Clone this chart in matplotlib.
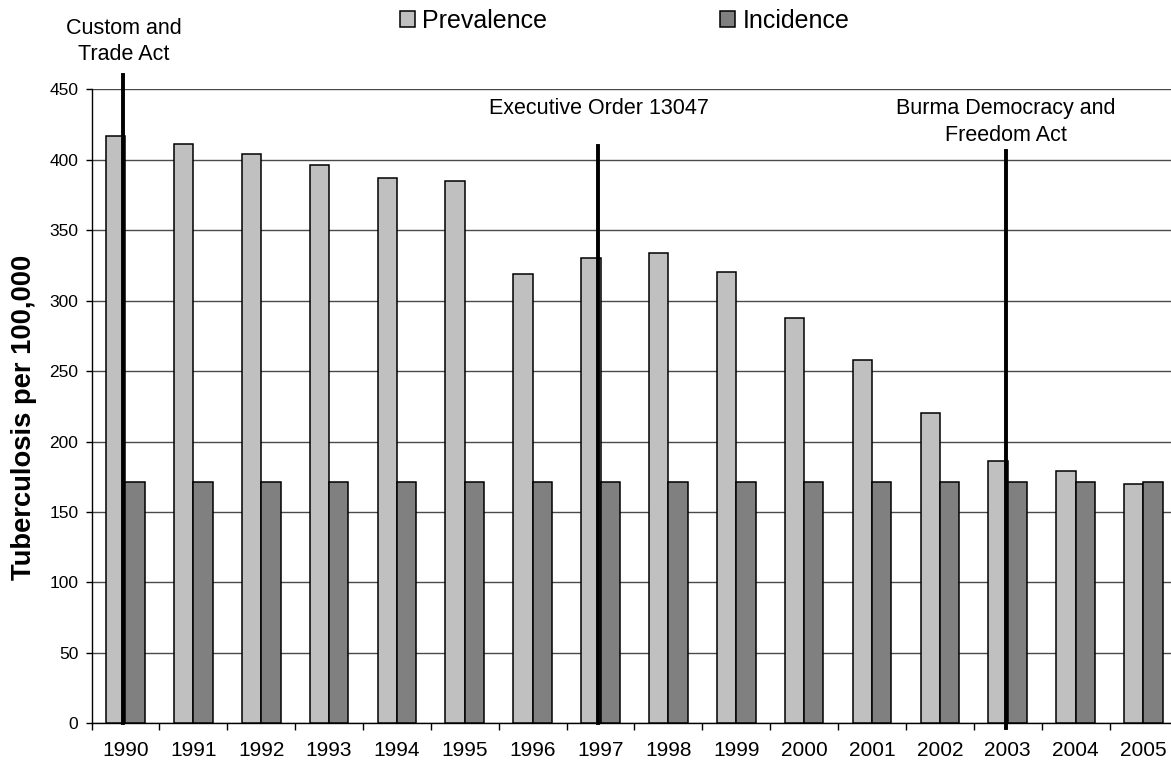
import matplotlib
matplotlib.use("Agg")
import matplotlib.pyplot as plt
import numpy as np
from matplotlib.patches import Patch

plt.rcParams['font.family'] = ['Liberation Sans', 'DejaVu Sans']

# data
years = ['1990', '1991', '1992', '1993', '1994', '1995', '1996', '1997',
         '1998', '1999', '2000', '2001', '2002', '2003', '2004', '2005']
prevalence = [417, 411, 404, 396, 387, 385, 319, 330, 334, 320, 288, 258, 220, 186, 179, 170]
incidence = [171] * 16

# policy events: year index, label, line top, line bottom, label centre
event_idx = [0, 7, 13]
event_labels = ['Custom and\nTrade Act', 'Executive Order 13047', 'Burma Democracy and\nFreedom Act']
event_top = [460, 410, 406]
event_bottom = [0, 0, -3]
event_label_y = [484, 436.5, 427]

W, H = 1171, 766
fig = plt.figure(figsize=(W / 100, H / 100), dpi=100)
ax_left, ax_right = 91.5 / W, (91.5 + 16 * 67.87) / W
ax_bot, ax_top = 1 - 723.3 / H, 1 - 89.3 / H
ax = fig.add_axes([ax_left, ax_bot, ax_right - ax_left, ax_top - ax_bot])

x = np.arange(len(years))
bw = 0.285
ax.bar(x - bw / 2, prevalence, bw, color='#c0c0c0', edgecolor='black', linewidth=1.1, zorder=3)
ax.bar(x + bw / 2, incidence, bw, color='#808080', edgecolor='black', linewidth=1.1, zorder=3)

ax.set_xlim(-0.5, len(years) - 0.5)
ax.set_ylim(0, 450)
ax.set_yticks(range(0, 451, 50))
ax.yaxis.grid(True, color='#4a4a4a', linewidth=1.0, zorder=0)
ax.set_axisbelow(True)

ax.set_xticks(np.arange(len(years) + 1) - 0.5)
ax.set_xticklabels([])
ax.set_xticks(x, minor=True)
ax.set_xticklabels(years, minor=True, fontsize=15)
ax.tick_params(axis='x', which='major', direction='out', length=5, width=1, color='black')
ax.tick_params(axis='x', which='minor', length=0, pad=13)
ax.tick_params(axis='y', direction='out', length=4.5, width=1, labelsize=12.5, pad=5)

for s in ['top', 'right']:
    ax.spines[s].set_visible(False)
for s in ['left', 'bottom']:
    ax.spines[s].set_color('black')
    ax.spines[s].set_linewidth(1.0)

fig.text(24 / W, 1 - 417 / H, 'Tuberculosis per 100,000', rotation=90,
         ha='center', va='center', fontsize=19.7, fontweight='bold')

for i, lab, top, bot, ly in zip(event_idx, event_labels, event_top, event_bottom, event_label_y):
    ax.plot([i - 0.03, i - 0.03], [bot, top], color='black', linewidth=2.8, clip_on=False, zorder=5)
    ax.text(i - 0.03, ly, lab, ha='center', va='center', fontsize=15.5, linespacing=1.35)

handles = [Patch(facecolor='#c0c0c0', edgecolor='black', linewidth=1.1),
           Patch(facecolor='#808080', edgecolor='black', linewidth=1.1)]
fig.legend(handles, ['Prevalence', 'Incidence'], loc='center left',
           bbox_to_anchor=(400 / W, 1 - 21 / H), ncol=2, frameon=False,
           fontsize=18, handlelength=0.6, handleheight=0.6, handletextpad=0.3,
           columnspacing=6.9, borderpad=0, borderaxespad=0)

fig.savefig('out.png', dpi=100)
